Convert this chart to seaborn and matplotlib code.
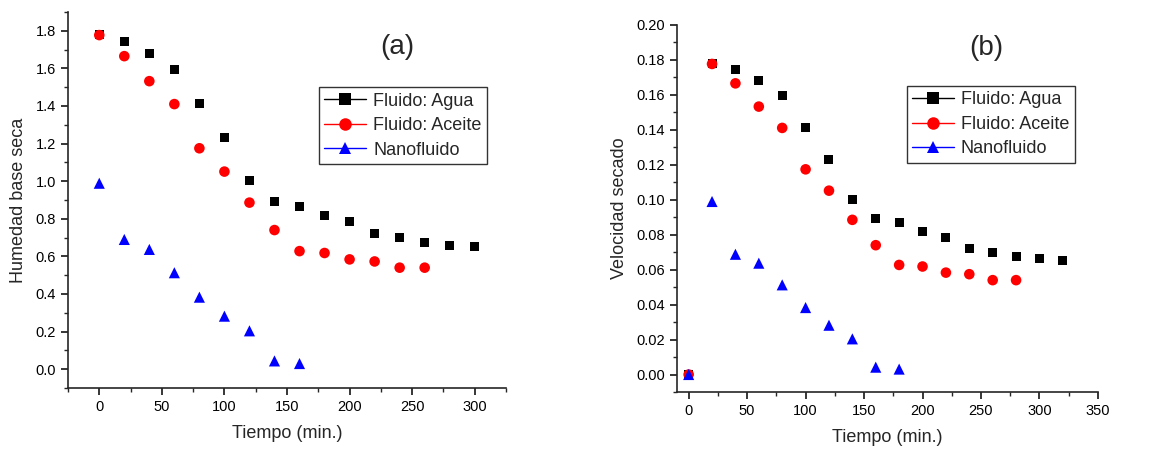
import matplotlib
matplotlib.use("Agg")
import matplotlib.pyplot as plt
from matplotlib.lines import Line2D
from matplotlib.ticker import MultipleLocator
import pandas as pd
import seaborn as sns

# panel (a): humedad base seca
tiempo_agua_a = [0, 20, 40, 60, 80, 100, 120, 140, 160, 180, 200, 220, 240, 260, 280, 300]
agua_a = [1.78, 1.742, 1.681, 1.596, 1.413, 1.232, 1.001, 0.891, 0.866, 0.818, 0.783, 0.722, 0.698, 0.673, 0.660, 0.650]
tiempo_aceite_a = [0, 20, 40, 60, 80, 100, 120, 140, 160, 180, 200, 220, 240, 260]
aceite_a = [1.777, 1.665, 1.532, 1.410, 1.175, 1.051, 0.886, 0.740, 0.628, 0.618, 0.584, 0.573, 0.540, 0.540]
tiempo_nano_a = [0, 20, 40, 60, 80, 100, 120, 140, 160]
nano_a = [0.989, 0.690, 0.637, 0.513, 0.383, 0.282, 0.204, 0.044, 0.030]

# panel (b): velocidad secado
tiempo_agua_b = [0, 20, 40, 60, 80, 100, 120, 140, 160, 180, 200, 220, 240, 260, 280, 300, 320]
agua_b = [0.0, 0.1777, 0.1743, 0.168, 0.1596, 0.1413, 0.1232, 0.1001, 0.0892, 0.0867, 0.0820, 0.0784, 0.0723, 0.0698, 0.0673, 0.0662, 0.0650]
tiempo_aceite_b = [0, 20, 40, 60, 80, 100, 120, 140, 160, 180, 200, 220, 240, 260, 280]
aceite_b = [0.0, 0.1777, 0.1666, 0.1533, 0.1411, 0.1174, 0.1052, 0.0885, 0.0740, 0.0627, 0.0618, 0.0583, 0.0574, 0.0540, 0.0540]
tiempo_nano_b = [0, 20, 40, 60, 80, 100, 120, 140, 160, 180]
nano_b = [0.0, 0.099, 0.0688, 0.0637, 0.0513, 0.0383, 0.0282, 0.0204, 0.0042, 0.0031]

series_names = ["Fluido: Agua", "Fluido: Aceite", "Nanofluido"]
colors = ["black", "red", "blue"]
markers = ["s", "o", "^"]
sizes = [42, 58, 64]

sns.set_style("ticks")
plt.rcParams["font.family"] = ["Liberation Sans", "DejaVu Sans"]
plt.rcParams["axes.linewidth"] = 1.2

fig = plt.figure(figsize=(11.7, 4.5), dpi=100)
ax_a = fig.add_axes([0.0581, 0.1378, 0.3744, 0.8356])
ax_b = fig.add_axes([0.5786, 0.1289, 0.3598, 0.8156])


def draw_panel(ax, data, xlim, ylim, xmaj, ymaj, ylabel, fmt, tag, tag_pos, leg_box):
    for (t, v), name, c, m, s in zip(data, series_names, colors, markers, sizes):
        df = pd.DataFrame({"t": t, "v": v})
        sns.scatterplot(data=df, x="t", y="v", ax=ax, color=c, marker=m, s=s,
                        edgecolor="none", linewidth=0, zorder=3)
    ax.set_xlim(*xlim)
    ax.set_ylim(*ylim)
    ax.xaxis.set_major_locator(MultipleLocator(xmaj))
    ax.xaxis.set_minor_locator(MultipleLocator(xmaj / 2))
    ax.yaxis.set_major_locator(MultipleLocator(ymaj))
    ax.yaxis.set_minor_locator(MultipleLocator(ymaj / 2))
    ax.yaxis.set_major_formatter(fmt)
    ax.tick_params(which="major", direction="out", length=5, width=1.1, labelsize=10.5, colors="black")
    ax.tick_params(which="minor", direction="out", length=3, width=1.0)
    sns.despine(ax=ax)
    ax.set_xlabel("Tiempo (min.)", fontsize=13, labelpad=8)
    ax.set_ylabel(ylabel, fontsize=13, labelpad=6)
    ax.text(tag_pos[0], tag_pos[1], tag, transform=ax.transAxes, fontsize=20,
            ha="center", va="center")
    handles = [Line2D([0], [0], color=c, marker=m, markersize=8 if m == "s" else 9,
                      linewidth=1.0, markeredgewidth=0)
               for c, m in zip(colors, markers)]
    leg = ax.legend(handles, series_names, loc="upper left", bbox_to_anchor=leg_box,
                    fontsize=13, frameon=True, fancybox=False, edgecolor="black",
                    handlelength=2.3, handletextpad=0.4, borderpad=0.3,
                    labelspacing=0.42, borderaxespad=0)
    leg.get_frame().set_linewidth(1.0)


draw_panel(ax_a, [(tiempo_agua_a, agua_a), (tiempo_aceite_a, aceite_a), (tiempo_nano_a, nano_a)],
           (-25, 325), (-0.1, 1.9), 50, 0.2, "Humedad base seca", "{x:.1f}",
           "(a)", (0.751, 0.907), (0.573, 0.80))
draw_panel(ax_b, [(tiempo_agua_b, agua_b), (tiempo_aceite_b, aceite_b), (tiempo_nano_b, nano_b)],
           (-10, 350), (-0.01, 0.20), 50, 0.02, "Velocidad secado", "{x:.2f}",
           "(b)", (0.736, 0.937), (0.546, 0.834))

fig.savefig("out.png", dpi=100)
